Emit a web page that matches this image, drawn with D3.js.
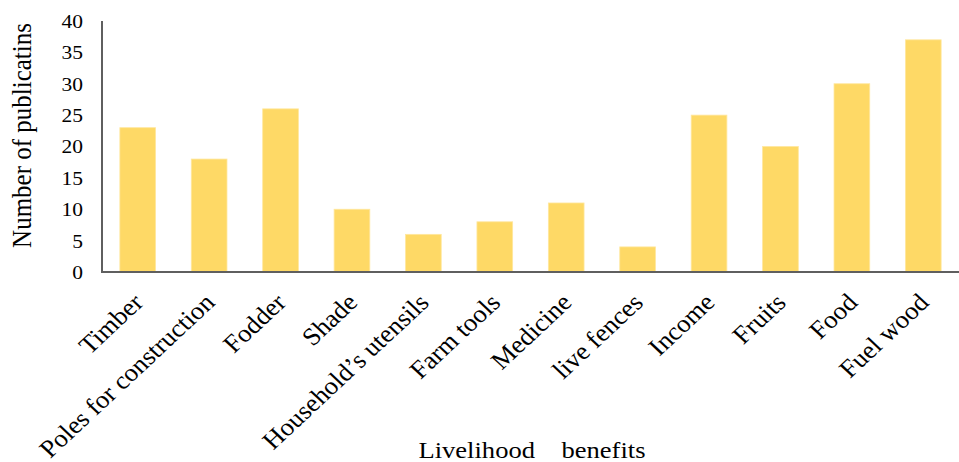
<!DOCTYPE html>
<html>
<head>
<meta charset="utf-8">
<script src="https://cdn.jsdelivr.net/npm/d3@7"></script>
<style>
  html, body { margin: 0; padding: 0; background: #ffffff; }
  svg { display: block; }
  text { font-family: "Liberation Serif", "Times New Roman", serif; fill: #000; }
</style>
</head>
<body>
<svg id="chart" width="959" height="462"></svg>
<script>
const categories = ["Timber", "Poles for construction", "Fodder", "Shade", "Household\u2019s utensils",
  "Farm tools", "Medicine", "live fences", "Income", "Fruits", "Food", "Fuel wood"];
const values = [23, 18, 26, 10, 6, 8, 11, 4, 25, 20, 30, 37];
const yTicks = [0, 5, 10, 15, 20, 25, 30, 35, 40];
const yTitle = "Number of publicatins";
const xTitle = "Livelihood    benefits";

const svg = d3.select("#chart");
const W = 959, H = 462;
const m = { left: 102, right: 0, top: 21, bottom: 190 };
const plotBottom = 272;
const SX = 1.13;   // horizontal stretch of the original rendering (straight text)
const SXL = 1.07;  // stretch for rotated category labels

const x = d3.scaleBand().domain(categories).range([m.left, W]).paddingInner(0.5).paddingOuter(0.25);
const y = d3.scaleLinear().domain([0, 40]).range([plotBottom, m.top]);

// bars
svg.append("g").selectAll("rect").data(values).join("rect")
  .attr("x", (d, i) => x(categories[i]))
  .attr("y", d => y(d))
  .attr("width", x.bandwidth())
  .attr("height", d => y(0) - y(d))
  .attr("fill", "#FED966")
  .attr("stroke", "#FFE79E")
  .attr("stroke-width", 0.8);

// y axis (labels only, no tick marks)
const yAxis = svg.append("g").attr("transform", `translate(${m.left},0)`)
  .call(d3.axisLeft(y).tickValues(yTicks).tickSize(0).tickPadding(19));
yAxis.select(".domain").remove();
yAxis.selectAll(".tick text")
  .attr("font-size", 19)
  .attr("font-family", "Liberation Serif, Times New Roman, serif")
  .attr("fill", "#1a1a1a")
  .attr("x", null).attr("dy", null)
  .attr("text-anchor", "end")
  .attr("transform", d => `translate(-19,${0.34 * 19}) scale(${SX},1)`);

// x axis labels
const xAxis = svg.append("g").attr("transform", `translate(0,${plotBottom})`)
  .call(d3.axisBottom(x).tickSize(0).tickPadding(0));
xAxis.select(".domain").remove();
xAxis.selectAll(".tick text")
  .attr("font-size", 25)
  .attr("font-family", "Liberation Serif, Times New Roman, serif")
  .attr("fill", "#000")
  .attr("y", null).attr("dy", null)
  .attr("text-anchor", "end")
  .attr("transform", `translate(7,32) scale(${SXL},1) rotate(-45)`);

// axis lines
svg.append("line")
  .attr("x1", m.left).attr("x2", m.left)
  .attr("y1", y(40)).attr("y2", plotBottom + 1)
  .attr("stroke", "#5f5f5f").attr("stroke-width", 2);
svg.append("line")
  .attr("x1", m.left - 1).attr("x2", W)
  .attr("y1", plotBottom).attr("y2", plotBottom)
  .attr("stroke", "#5f5f5f").attr("stroke-width", 2);

// titles
svg.append("text")
  .attr("transform", `translate(31,135.5) scale(${SX},1) rotate(-90)`)
  .attr("text-anchor", "middle")
  .attr("font-size", 25)
  .text(yTitle);

svg.append("text")
  .attr("transform", `translate(532,458) scale(${SX},1)`)
  .attr("text-anchor", "middle")
  .attr("font-size", 23.5)
  .attr("xml:space", "preserve")
  .style("white-space", "pre")
  .text(xTitle);
</script>
</body>
</html>
